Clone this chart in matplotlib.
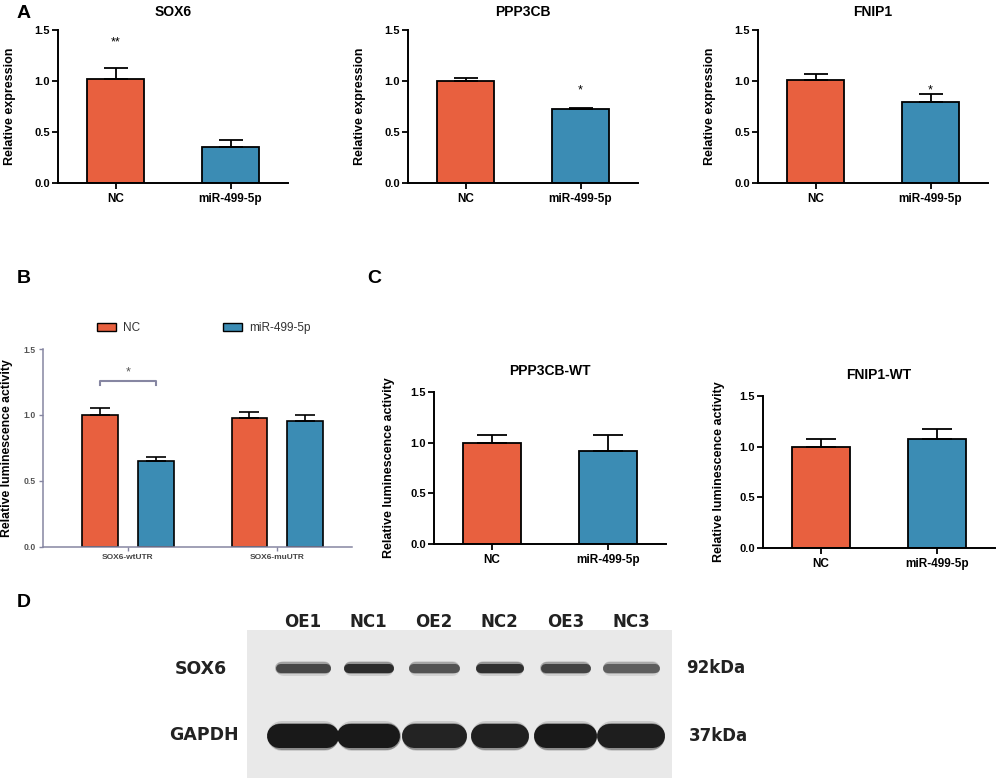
import matplotlib
matplotlib.use("Agg")
import matplotlib.pyplot as plt
from matplotlib.patches import Patch
import numpy as np

plt.rcParams['font.family'] = ['Liberation Sans', 'DejaVu Sans']

W, H = 996, 781
RED = '#e8603f'
BLUE = '#3b8cb4'

# ---- panel A: qPCR ----
genes_a = ['SOX6', 'PPP3CB', 'FNIP1']
groups = ['NC', 'miR-499-5p']
expr_nc = [1.02, 1.00, 1.01]
expr_nc_err = [0.11, 0.03, 0.06]
expr_mir = [0.35, 0.725, 0.79]
expr_mir_err = [0.07, 0.01, 0.08]
sig_a = ['**', '*', '*']
sig_a_group = [0, 1, 1]
sig_a_y = [1.38, 0.91, 0.91]

# ---- panel B: luciferase SOX6 ----
constructs = ['SOX6-wtUTR', 'SOX6-muUTR']
luc_nc = [1.00, 0.98]
luc_nc_err = [0.05, 0.04]
luc_mir = [0.65, 0.95]
luc_mir_err = [0.03, 0.05]

# ---- panel C: luciferase targets ----
wt_genes = ['PPP3CB-WT', 'FNIP1-WT']
wt_nc = [1.00, 1.00]
wt_nc_err = [0.08, 0.08]
wt_mir = [0.92, 1.08]
wt_mir_err = [0.16, 0.09]

# ---- panel D: western blot ----
lanes = ['OE1', 'NC1', 'OE2', 'NC2', 'OE3', 'NC3']
sox6_intensity = [0.80, 0.92, 0.75, 0.90, 0.82, 0.70]
sox6_width = [0.85, 0.76, 0.77, 0.73, 0.76, 0.86]
gapdh_intensity = [1.00, 1.00, 0.96, 0.97, 1.00, 0.98]
gapdh_width = [1.09, 0.96, 0.99, 0.88, 0.96, 1.03]

fig = plt.figure(figsize=(W / 100, H / 100), dpi=100)


def px_axes(left, top, right, bottom):
    return fig.add_axes([left / W, 1 - bottom / H, (right - left) / W, (bottom - top) / H])


def ftext(x, y, s, **kw):
    fig.text(x / W, 1 - y / H, s, **kw)


def style_graphpad(ax, ylabel, label_x):
    for s in ['top', 'right']:
        ax.spines[s].set_visible(False)
    for s in ['left', 'bottom']:
        ax.spines[s].set_linewidth(1.4)
    ax.set_ylim(0, 1.5)
    ax.set_yticks([0, 0.5, 1.0, 1.5])
    ax.set_yticklabels(['0.0', '0.5', '1.0', '1.5'])
    ax.tick_params(axis='y', direction='out', length=4, width=1.3, pad=2, labelsize=8)
    ax.tick_params(axis='x', direction='out', length=4, width=1.3, pad=3, labelsize=8.5)
    for lab in ax.get_xticklabels() + ax.get_yticklabels():
        lab.set_fontweight('bold')
    ax.set_ylabel(ylabel, fontsize=9, fontweight='bold')
    ax.yaxis.set_label_coords(label_x, 0.5)


def two_bar(ax, nc, nc_err, mir, mir_err, width, capsize):
    x = np.arange(2)
    ax.bar(x, [nc, mir], width=width, color=[RED, BLUE], edgecolor='black', linewidth=1.3, zorder=2)
    ax.errorbar(x, [nc, mir], yerr=[[0, 0], [nc_err, mir_err]], fmt='none', ecolor='black',
                elinewidth=1.3, capsize=capsize, capthick=1.3, zorder=3)
    ax.set_xlim(-0.5, 1.5)
    ax.set_xticks(x)
    ax.set_xticklabels(groups)


# panel A
a_boxes = [(58, 30, 288, 183), (408, 30, 638, 183), (758, 30, 988, 183)]
for i, box in enumerate(a_boxes):
    ax = px_axes(*box)
    two_bar(ax, expr_nc[i], expr_nc_err[i], expr_mir[i], expr_mir_err[i], 0.49, 8.3)
    style_graphpad(ax, 'Relative expression', -0.183)
    ax.set_title(genes_a[i], fontsize=10, fontweight='bold', pad=10)
    ax.text(sig_a_group[i], sig_a_y[i], sig_a[i], ha='center', va='center', fontsize=9)

# panel B
GREY = '#8686a2'
axb = px_axes(43, 349, 352, 546.7)
xg = np.arange(len(constructs))
off = 0.186
axb.bar(xg - off, luc_nc, width=0.24, color=RED, edgecolor='black', linewidth=1.2, zorder=2, label='NC')
axb.bar(xg + off, luc_mir, width=0.24, color=BLUE, edgecolor='black', linewidth=1.2, zorder=2, label='miR-499-5p')
axb.errorbar(xg - off, luc_nc, yerr=[[0] * 2, luc_nc_err], fmt='none', ecolor='black',
             elinewidth=1.2, capsize=7, capthick=1.2, zorder=3)
axb.errorbar(xg + off, luc_mir, yerr=[[0] * 2, luc_mir_err], fmt='none', ecolor='black',
             elinewidth=1.2, capsize=7, capthick=1.2, zorder=3)
axb.set_xlim(-0.567, 1.5)
axb.set_ylim(0, 1.5)
axb.set_yticks([0, 0.5, 1.0, 1.5])
axb.set_yticklabels(['0.0', '0.5', '1.0', '1.5'])
axb.set_xticks(xg)
axb.set_xticklabels(constructs)
for s in ['top', 'right']:
    axb.spines[s].set_visible(False)
for s in ['left', 'bottom']:
    axb.spines[s].set_color(GREY)
    axb.spines[s].set_linewidth(1.1)
axb.tick_params(axis='both', colors=GREY, length=3, width=1.0, pad=2)
axb.tick_params(axis='y', labelsize=6.2, labelcolor='#555555')
axb.tick_params(axis='x', labelsize=6, labelcolor='#444444')
for lab in axb.get_xticklabels() + axb.get_yticklabels():
    lab.set_fontweight('bold')
axb.set_ylabel('Relative luminescence activity', fontsize=8.8, fontweight='bold')
axb.yaxis.set_label_coords(-0.097, 0.5)
# significance bracket
axb.plot([-off, -off, off, off], [1.23, 1.255, 1.255, 1.23], color=GREY, lw=1.5, zorder=3)
axb.text(0, 1.32, '*', ha='center', va='center', fontsize=9, color='#555555')
axb.legend(handles=[Patch(facecolor=RED, edgecolor='black', linewidth=1.0),
                    Patch(facecolor=BLUE, edgecolor='black', linewidth=1.0)],
           labels=groups, loc='center left', bbox_to_anchor=(0.175, 1.106), ncol=2,
           frameon=False, fontsize=8.5, handlelength=1.6, handleheight=0.6,
           handletextpad=0.6, columnspacing=7.0, borderpad=0, borderaxespad=0,
           labelcolor='#333333')

# panel C
c_boxes = [(434, 392, 666, 544), (763, 396, 995, 548)]
c_label_x = [-0.168, -0.164]
for i, box in enumerate(c_boxes):
    ax = px_axes(*box)
    two_bar(ax, wt_nc[i], wt_nc_err[i], wt_mir[i], wt_mir_err[i], 0.5, 10.8)
    style_graphpad(ax, 'Relative luminescence activity', c_label_x[i])
    ax.set_title(wt_genes[i], fontsize=10, fontweight='bold', pad=12.2)

# panel D: blot
axd = px_axes(247, 630, 672, 778)
axd.set_facecolor('#e9e9e9')
for s in axd.spines.values():
    s.set_visible(False)
axd.set_xticks([])
axd.set_yticks([])
axd.set_xlim(-0.854, 5.625)
axd.set_ylim(0, 1)
px_per_lane = 425 / (5.625 + 0.854)


def band(x, y, width, thick_px, intensity):
    grey = 1 - 0.9 * intensity
    col = (grey, grey, grey)
    for extra, alpha in [(6, 0.15), (3, 0.35), (0, 1.0)]:
        t = thick_px + extra
        hw = max(width / 2 - (t / 2) / px_per_lane, 0.01)
        axd.plot([x - hw, x + hw], [y, y], color=col, lw=t * 0.72, alpha=alpha,
                 solid_capstyle='round', zorder=2)


for i in range(len(lanes)):
    band(i, 0.743, sox6_width[i], 9, sox6_intensity[i])
    band(i, 0.284, gapdh_width[i], 24, gapdh_intensity[i])
    axd.text(i, 1.02, lanes[i], transform=axd.get_xaxis_transform(), ha='center', va='baseline',
             fontsize=12, fontweight='bold', family='DejaVu Sans', color='#222222')

ftext(227, 669, 'SOX6', ha='right', va='center', fontsize=12.5, fontweight='bold',
      family='DejaVu Sans', color='#222222')
ftext(239, 735, 'GAPDH', ha='right', va='center', fontsize=12.5, fontweight='bold',
      family='DejaVu Sans', color='#222222')
ftext(686, 668, '92kDa', ha='left', va='center', fontsize=12, fontweight='bold',
      family='DejaVu Sans', color='#222222')
ftext(689, 736, '37kDa', ha='left', va='center', fontsize=12, fontweight='bold',
      family='DejaVu Sans', color='#222222')

# panel letters
for letter, x, y in [('A', 17, 18), ('B', 17, 283), ('C', 367, 283), ('D', 17, 607)]:
    ftext(x, y, letter, ha='left', va='baseline', fontsize=14, fontweight='bold')

fig.savefig('out.png', dpi=100)
